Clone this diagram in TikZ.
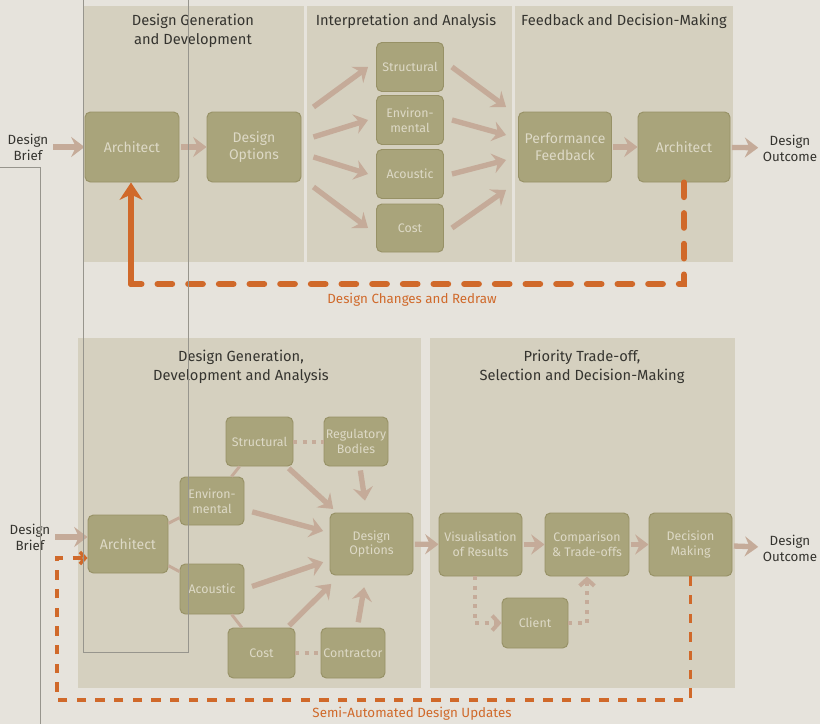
\documentclass[tikz,border=0pt]{standalone}
\usepackage{fontspec}
\setmainfont{Fira Sans}
\usetikzlibrary{arrows.meta}

\definecolor{paper}{HTML}{E6E3DC}
\definecolor{panelcol}{HTML}{D5D0BF}
\definecolor{boxcol}{HTML}{A9A47B}
\definecolor{boxline}{HTML}{979166}
\definecolor{boxtext}{HTML}{DDD9C6}
\definecolor{arrowcol}{HTML}{C5AB99}
\definecolor{loopcol}{HTML}{D0692A}
\definecolor{titlecol}{HTML}{35342F}
\definecolor{guide}{HTML}{97958D}

\begin{document}
\begin{tikzpicture}[x=0.75pt,y=-0.75pt,
  wh/.style 2 args={minimum width=#1*0.75pt, minimum height=#2*0.75pt},
  panel/.style={fill=panelcol},
  title/.style={text=titlecol, align=center, font=\fontsize{11}{14}\selectfont},
  box/.style={draw=boxline, line width=0.7pt, fill=boxcol, rounded corners=4pt,
    text=boxtext, align=center, inner sep=1pt, font=\fontsize{10.5}{13}\selectfont},
  sbox/.style={box, font=\fontsize{9.3}{11}\selectfont},
  ends/.style={text=titlecol, align=center, font=\fontsize{10}{12}\selectfont},
  fat/.style={draw=arrowcol, line width=4pt, -{Stealth[length=10pt,width=15pt,inset=3.5pt]}},
  dots/.style={draw=arrowcol, line width=3pt, dash pattern=on 3pt off 4pt},
  loop/.style={draw=loopcol, line width=4.5pt, line cap=round, dash pattern=on 11pt off 12pt},
  thinloop/.style={draw=loopcol, line width=2.6pt, dash pattern=on 7pt off 7pt},
  looplabel/.style={text=loopcol, font=\fontsize{10}{12}\selectfont}]

% page and panels
\useasboundingbox (0,0) rectangle (820,724);
\fill[paper] (0,0) rectangle (820,724);
\fill[panel] (83,6) rectangle (304,262);
\fill[panel] (307,6) rectangle (512,262);
\fill[panel] (515,6) rectangle (733,262);
\fill[panel] (78,338) rectangle (421,688);
\fill[panel] (430,338) rectangle (735,688);

\node[title] at (193,31) {Design Generation\\and Development};
\node[title] at (406,21) {Interpretation and Analysis};
\node[title] at (624,21) {Feedback and Decision-Making};
\node[title] at (241,367) {Design Generation,\\Development and Analysis};
\node[title] at (582,367) {Priority Trade-off,\\Selection and Decision-Making};

% upper process
\node[ends] (brief1) at (28,147) {Design\\Brief};
\node[box,wh={94}{70}] (arch1) at (132,147) {Architect};
\node[box,wh={94}{70}] (opts1) at (254,147) {Design\\Options};
\node[sbox,wh={67}{49}] (struct1) at (410,67) {Structural};
\node[sbox,wh={67}{49}] (env1) at (410,120) {Environ-\\mental};
\node[sbox,wh={67}{49}] (acou1) at (410,174) {Acoustic};
\node[sbox,wh={67}{48}] (cost1) at (410,228) {Cost};
\node[box,wh={93}{70}] (perf) at (565,147) {Performance\\Feedback};
\node[box,wh={92}{70}] (arch2) at (684,147) {Architect};
\node[ends] (out1) at (790,148) {Design\\Outcome};

\draw[fat] (brief1) -- (arch1);
\draw[fat,shorten <=1pt] (arch1) -- (opts1);
\draw[fat,shorten <=1pt] (perf) -- (arch2);
\draw[fat,shorten <=1pt] (arch2) -- (out1);

\draw[fat] ([shift={(12,-40)}]opts1.east) -- ([xshift=-6pt]struct1.west);
\draw[fat] ([shift={(12,-10)}]opts1.east) -- ([xshift=-6pt]env1.west);
\draw[fat] ([shift={(12,10)}]opts1.east) -- ([xshift=-6pt]acou1.west);
\draw[fat] ([shift={(12,40)}]opts1.east) -- ([xshift=-6pt]cost1.west);

\draw[fat] ([xshift=6pt]struct1.east) -- ([shift={(-12,-40)}]perf.west);
\draw[fat] ([xshift=6pt]env1.east) -- ([shift={(-12,-12)}]perf.west);
\draw[fat] ([xshift=6pt]acou1.east) -- ([shift={(-12,13)}]perf.west);
\draw[fat] ([xshift=6pt]cost1.east) -- ([shift={(-12,43)}]perf.west);

\coordinate (redraw) at (0,284);
\draw[loop] (arch2.south) -- (arch2.south |- redraw) -- ([xshift=-0.75pt]arch1.south |- redraw);
\draw[draw=loopcol, line width=4.5pt, line cap=round, -{Stealth[length=13pt,width=17pt,inset=4pt]}]
  ([xshift=-0.75pt]arch1.south |- redraw) -- ([xshift=-0.75pt]arch1.south);
\node[looplabel] at (412,300) {Design Changes and Redraw};

% lower process
\node[ends] (brief2) at (30,537) {Design\\Brief};
\node[box,wh={80}{58}] (arch3) at (128,544) {Architect};
\node[sbox,wh={64}{48}] (env2) at (212,501) {Environ-\\mental};
\node[sbox,wh={67}{49}] (struct2) at (259.5,441.5) {Structural};
\node[sbox,wh={64}{49}] (reg) at (356,441.5) {Regulatory\\Bodies};
\node[sbox,wh={64}{50}] (acou2) at (212,589) {Acoustic};
\node[sbox,wh={67}{50}] (cost2) at (261.5,653) {Cost};
\node[sbox,wh={64}{50}] (contr) at (353,653) {Contractor};
\node[sbox,wh={83}{62}] (opts2) at (371.5,544) {Design\\Options};
\node[sbox,wh={83}{63}] (vis) at (480.5,544.5) {Visualisation\\of Results};
\node[sbox,wh={84}{63}] (comp) at (587,544.5) {Comparison\\\& Trade-offs};
\node[sbox,wh={83}{63}] (dec) at (690.5,544.5) {Decision\\Making};
\node[sbox,wh={66}{50}] (client) at (535,623) {Client};
\node[ends] (out2) at (790,548) {Design\\Outcome};

\draw[arrowcol, line width=2.2pt] (arch3) -- (env2) (env2) -- (struct2)
  (arch3) -- (acou2) (acou2) -- (cost2);
\draw[dots] (struct2) -- (reg);
\draw[dots] (cost2) -- (contr);

\draw[fat] (brief2) -- (brief2 -| arch3.west);
\draw[fat,shorten <=1pt] (opts2) -- (vis);
\draw[fat,shorten <=1pt] (vis) -- (comp);
\draw[fat,shorten <=1pt] (comp) -- (dec);
\draw[fat,shorten <=1pt] (dec) -- (out2);

\draw[fat,shorten <=2pt,shorten >=4pt] (struct2) -- (opts2);
\draw[fat,shorten <=3pt,shorten >=9pt] (reg) -- (opts2);
\draw[fat,shorten <=6pt,shorten >=5pt] (env2) -- (opts2);
\draw[fat,shorten <=6pt,shorten >=5pt] (acou2.east) -- ([shift={(0,16)}]opts2.west);
\draw[fat,shorten <=2pt,shorten >=9pt] (cost2) -- (opts2);
\draw[fat,shorten <=4pt,shorten >=9pt] (contr) -- (opts2);

\draw[dots,-{Straight Barb[length=5pt,width=11pt]}]
  ([xshift=-4pt]vis.south) |- (client.west);
\draw[dots,-{Straight Barb[length=5pt,width=11pt]}]
  (client.east) -| (comp.south);

\coordinate (update) at (57,700);
\draw[thinloop,-{Straight Barb[length=4pt,width=9pt]}]
  (dec.south) |- (update) |- ([shift={(0,14)}]arch3.west);
\node[looplabel] at (412,714) {Semi-Automated Design Updates};

% thin guide lines
\draw[guide, line width=0.5pt] (0,167) -- (40,167) -- (40,724);
\draw[guide, line width=0.5pt] (83,0) -- (83,652) -- (188,652) -- (188,0);
\end{tikzpicture}
\end{document}
